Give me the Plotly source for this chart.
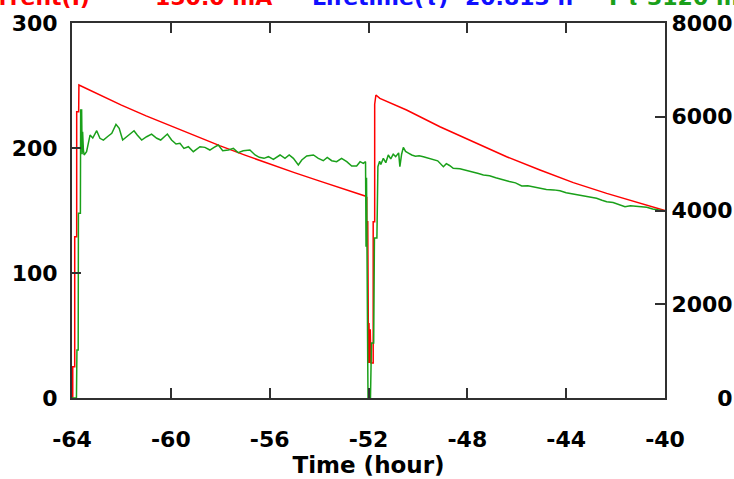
import plotly.graph_objects as go

# ---- data ----
current_time = [-64.00, -63.97, -63.97, -63.89, -63.89, -63.81, -63.81, -63.73, -63.72,
                -63.00, -62.00, -61.00, -60.00, -59.00, -58.00, -57.00, -56.00, -55.00,
                -54.00, -53.00, -52.14, -52.07, -52.07, -52.03, -52.03, -52.00, -51.98,
                -51.96, -51.93, -51.90, -51.81, -51.81, -51.75, -51.75, -51.70,
                -51.54, -50.46, -49.11, -47.76, -46.41, -45.06, -43.71, -42.36, -41.01, -40.00]
current_mA = [0, 0, 25, 25, 129, 129, 229, 229, 250.4,
              243.5, 234.3, 225.7, 217.5, 209.4, 201.7, 194.3, 187.2, 180.3,
              173.7, 167.3, 161.6, 160.5, 141, 141, 60, 28, 60,
              28, 55, 28, 28, 141, 141, 235, 242.4,
              239.7, 230.4, 217.0, 205.0, 193.0, 182.4, 172.3, 163.7, 155.7, 150.0]

itau_time = [-64.00, -63.82, -63.80, -63.75, -63.74, -63.66, -63.65, -63.61, -63.59, -63.57,
             -63.54, -63.51, -63.41, -63.27, -63.16, -63.00, -62.87, -62.73, -62.53, -62.39,
             -62.22, -62.09, -61.95, -61.79, -61.62, -61.49, -61.36, -61.18, -60.98, -60.78,
             -60.57, -60.41, -60.14, -59.97, -59.79, -59.63, -59.47, -59.29, -59.09, -58.93,
             -58.82, -58.62, -58.42, -58.25, -58.08, -57.90, -57.67, -57.47, -57.27, -57.07,
             -56.80, -56.59, -56.42, -56.23, -56.05, -55.85, -55.58, -55.38, -55.21, -55.04,
             -54.84, -54.70, -54.50, -54.23, -54.03, -53.83, -53.67, -53.49, -53.29, -53.09,
             -52.88, -52.68, -52.48, -52.34, -52.21, -52.12, -52.10, -52.08, -52.07, -52.06,
             -52.03, -52.02, -51.92, -51.88, -51.79, -51.76, -51.66, -51.62, -51.55, -51.50,
             -51.40, -51.30, -51.20, -51.10, -51.00, -50.90, -50.78, -50.73, -50.66, -50.59,
             -50.50, -50.40, -50.25, -50.10, -49.95, -49.78, -49.60, -49.38, -49.20, -48.97,
             -48.85, -48.72, -48.57, -48.30, -48.05, -47.76, -47.55, -47.35, -47.10, -46.85,
             -46.55, -46.30, -46.05, -45.80, -45.55, -45.30, -45.06, -44.80, -44.50, -44.25,
             -44.00, -43.80, -43.58, -43.35, -43.05, -42.77, -42.55, -42.36, -42.10, -41.85,
             -41.62, -41.40, -41.15, -40.90, -40.74, -40.50, -40.14, -40.00]
itau_value = [0, 0, 1024, 1024, 3940, 3940, 6144, 6144, 5200, 5680,
              5300, 5184, 5254, 5610, 5546, 5702, 5540, 5503, 5589, 5646,
              5838, 5753, 5503, 5574, 5631, 5702, 5610, 5503, 5574, 5631,
              5540, 5503, 5631, 5503, 5418, 5433, 5326, 5361, 5254, 5326,
              5361, 5347, 5290, 5347, 5397, 5276, 5290, 5326, 5233, 5276,
              5290, 5184, 5134, 5113, 5148, 5091, 5184, 5113, 5184, 5113,
              4970, 5077, 5162, 5184, 5113, 5062, 5134, 5062, 5041, 5113,
              5041, 4949, 4949, 5041, 5006, 5041, 3227, 4700, 3227, 704,
              700, 0, 0, 1173, 1173, 3413, 3413, 4935, 5050, 4980,
              5113, 5020, 5184, 5100, 5200, 5150, 5230, 4935, 5200, 5347,
              5260, 5230, 5184, 5160, 5170, 5148, 5120, 5091, 5060, 4935,
              5000, 4960, 4900, 4890, 4860, 4828, 4790, 4757, 4740, 4700,
              4650, 4620, 4590, 4522, 4530, 4500, 4473, 4450, 4440, 4422,
              4380, 4360, 4330, 4310, 4290, 4260, 4220, 4188, 4170, 4130,
              4081, 4100, 4090, 4067, 4067, 4030, 3996, 3990]

x_ticks = [-64, -60, -56, -52, -48, -44, -40]
left_ticks = [0, 100, 200, 300]
right_ticks = [0, 2000, 4000, 6000, 8000]

header_texts = ["Current(I)", "150.0 mA", "Lifetime(τ)", "20.813 h", "I·τ", "3120 mA·h"]

RED = "#ff0000"
GREEN = "#1aa01a"
BLUE = "#1010ff"
AXIS = "#303030"
FONT = "DejaVu Sans"

fig = go.Figure()
fig.add_trace(go.Scatter(x=itau_time, y=itau_value, yaxis="y2", mode="lines",
                         line=dict(color=GREEN, width=1.5), showlegend=False))
fig.add_trace(go.Scatter(x=current_time, y=current_mA, mode="lines",
                         line=dict(color=RED, width=1.5), showlegend=False))

tickfont = dict(family=FONT, size=22, color="black", weight="bold")

fig.update_layout(
    width=734, height=479,
    margin=dict(l=72, r=69, t=23, b=81, autoexpand=False),
    paper_bgcolor="white", plot_bgcolor="white",
    xaxis=dict(range=[-64, -40], tickvals=x_ticks, ticktext=[str(v) for v in x_ticks],
               ticks="inside", ticklen=10, tickwidth=2, tickcolor=AXIS,
               showline=True, linecolor=AXIS, linewidth=2, mirror="ticks",
               showgrid=False, zeroline=False, tickfont=tickfont, ticklabelstandoff=21,
               automargin=False,
               title=dict(text="Time (hour)", font=dict(family=FONT, size=23, color="black", weight="bold"),
                          standoff=4)),
    yaxis=dict(range=[0, 300], tickvals=left_ticks, ticktext=[str(v) for v in left_ticks],
               ticks="inside", ticklen=9, tickwidth=2, tickcolor=AXIS,
               showline=True, linecolor=AXIS, linewidth=2, automargin=False,
               showgrid=False, zeroline=False, tickfont=tickfont, ticklabelstandoff=8),
    yaxis2=dict(range=[0, 8000], overlaying="y", side="right",
                tickvals=right_ticks,
                ticktext=[str(v).rjust(4, "\u2007") for v in right_ticks],
                ticks="inside", ticklen=10, tickwidth=2, tickcolor=AXIS,
                showline=True, linecolor=AXIS, linewidth=2, automargin=False,
                showgrid=False, zeroline=False, tickfont=tickfont, ticklabelstandoff=0),
)

header_x = [-35, 153, 310, 463, 607, 645]
header_col = [RED, RED, BLUE, BLUE, GREEN, GREEN]
for txt, px, col in zip(header_texts, header_x, header_col):
    fig.add_annotation(text=txt, xref="paper", yref="paper",
                       x=(px - 72) / 593, y=(398 - 12) / 375,
                       xanchor="left", yanchor="bottom", showarrow=False,
                       font=dict(family=FONT, size=22, color=col, weight="bold"))

fig.write_html("out.html", config={"displayModeBar": False},
               post_script="document.body.style.margin='0';document.body.style.overflow='hidden';")
